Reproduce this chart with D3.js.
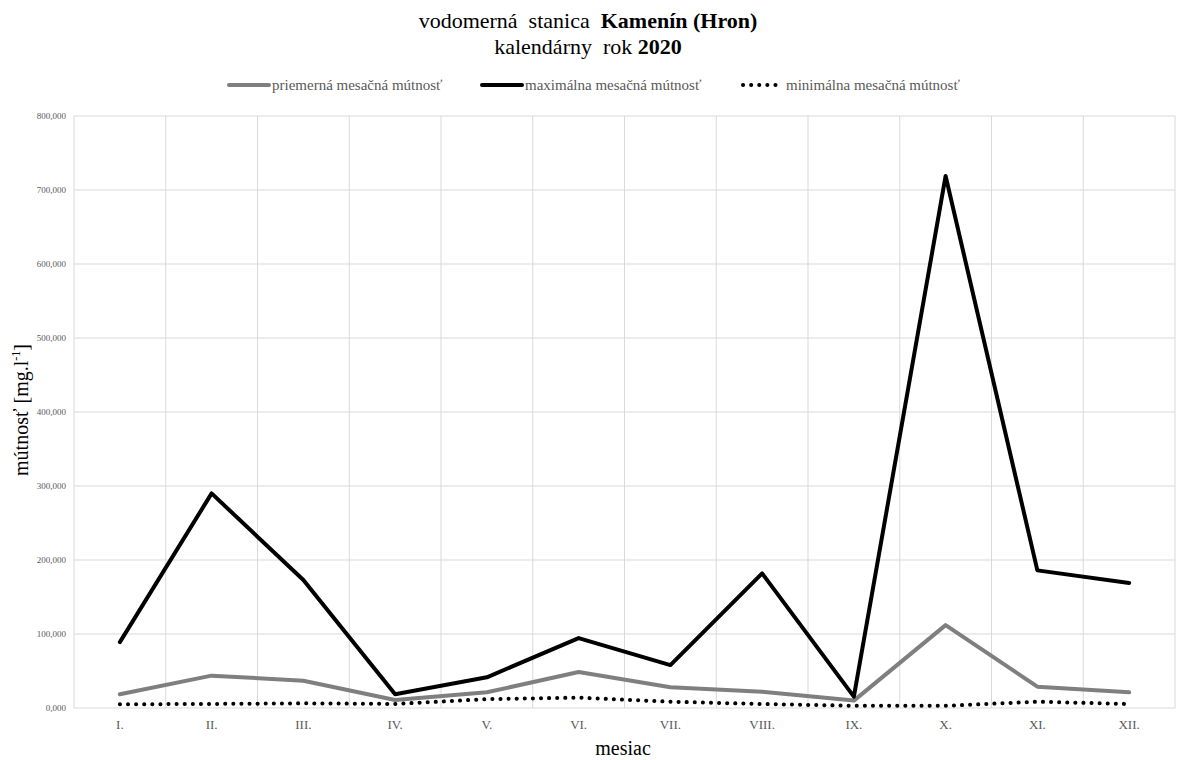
<!DOCTYPE html>
<html>
<head>
<meta charset="utf-8">
<script src="https://cdn.jsdelivr.net/npm/d3@7/dist/d3.min.js"></script>
<style>
  body { margin: 0; background: #fff; }
  svg { display: block; }
  svg text { font-family: "Liberation Serif", "Times New Roman", serif; white-space: pre; }
</style>
</head>
<body>
<svg id="chart" width="1177" height="760"></svg>
<script>
// ---- data (mg/l) ----
const months = ["I.", "II.", "III.", "IV.", "V.", "VI.", "VII.", "VIII.", "IX.", "X.", "XI.", "XII."];
const meanValues = [18.5, 43.7, 36.9, 10.8, 21.2, 48.6, 28.0, 22.0, 10.0, 112.0, 28.8, 21.2];
const maxValues  = [89.0, 290.0, 173.0, 18.5, 41.5, 94.5, 58.0, 182.0, 15.3, 719.0, 186.0, 169.0];
const minValues  = [5.0, 5.5, 6.3, 5.5, 12.0, 14.0, 8.5, 5.4, 3.0, 3.0, 8.5, 5.4];
const yTicks = [0, 100, 200, 300, 400, 500, 600, 700, 800];

const seriesDefs = [
  { name: "priemerná mesačná mútnosť", values: meanValues, color: "#7f7f7f", width: 4, dash: null },
  { name: "maximálna mesačná mútnosť", values: maxValues, color: "#000000", width: 4, dash: null },
  { name: "minimálna mesačná mútnosť", values: minValues, color: "#000000", width: 4, dash: "0.1 8" }
];

const svg = d3.select("#chart");
const plotLeft = 74, plotRight = 1175, plotTop = 116, plotBottom = 708;

const x = d3.scaleBand().domain(months).range([plotLeft, plotRight]).padding(0);
const y = d3.scaleLinear().domain([0, 800]).range([plotBottom, plotTop]);

const locale = d3.formatLocale({ decimal: ",", thousands: " ", grouping: [3], currency: ["", " €"] });
const fmt = locale.format(".3f");

// gridlines
const grid = svg.append("g");
grid.selectAll("line.h").data(yTicks).join("line")
  .attr("x1", plotLeft).attr("x2", plotRight)
  .attr("y1", d => y(d)).attr("y2", d => y(d))
  .attr("stroke", "#d9d9d9").attr("stroke-width", 1);
const vEdges = months.map(m => x(m)).concat([plotRight]);
grid.selectAll("line.v").data(vEdges).join("line")
  .attr("x1", d => d).attr("x2", d => d)
  .attr("y1", plotTop).attr("y2", plotBottom)
  .attr("stroke", "#d9d9d9").attr("stroke-width", 1);

// y axis
const yAxis = svg.append("g").attr("transform", `translate(${plotLeft},0)`)
  .call(d3.axisLeft(y).tickValues(yTicks).tickFormat(fmt).tickSize(0).tickPadding(8));
yAxis.select(".domain").remove();
yAxis.selectAll("text").style("fill", "#595959").style("font-size", "9px")
  .style("font-family", "'Liberation Serif', serif");

// x axis
const xAxis = svg.append("g").attr("transform", `translate(0,${plotBottom})`)
  .call(d3.axisBottom(x).tickSize(0).tickPadding(12));
xAxis.select(".domain").remove();
xAxis.selectAll("text").style("fill", "#595959").style("font-size", "13px")
  .style("font-family", "'Liberation Serif', serif");

// lines
const line = d3.line().x((d, i) => x(months[i]) + x.bandwidth() / 2).y(d => y(d));
svg.append("g").selectAll("path").data(seriesDefs).join("path")
  .attr("d", d => line(d.values))
  .attr("fill", "none")
  .attr("stroke", d => d.color)
  .attr("stroke-width", d => d.width)
  .attr("stroke-linecap", "round")
  .attr("stroke-linejoin", "round")
  .attr("stroke-dasharray", d => d.dash);

// title
const title = svg.append("text").attr("text-anchor", "middle").attr("x", 588).attr("y", 28)
  .style("font-size", "22px").attr("fill", "#000");
title.append("tspan").text("vodomerná  stanica  ");
title.append("tspan").attr("font-weight", "bold").text("Kamenín (Hron)");
const title2 = svg.append("text").attr("text-anchor", "middle").attr("x", 588).attr("y", 54)
  .style("font-size", "22px").attr("fill", "#000");
title2.append("tspan").text("kalendárny  rok ");
title2.append("tspan").attr("font-weight", "bold").text("2020");

// legend
const legendPos = [227, 480, 741];
const lg = svg.append("g").selectAll("g").data(seriesDefs).join("g")
  .attr("transform", (d, i) => `translate(${legendPos[i]},85)`);
lg.append("line").attr("x1", 2).attr("x2", 42).attr("y1", 0).attr("y2", 0)
  .attr("stroke", d => d.color).attr("stroke-width", d => d.width)
  .attr("stroke-linecap", "round")
  .attr("stroke-dasharray", d => d.dash);
lg.append("text").attr("x", 45).attr("y", 5).text(d => d.name)
  .style("fill", "#595959").style("font-size", "15px");

// axis titles
const yt = svg.append("text").attr("transform", "translate(28,410) rotate(-90)")
  .attr("text-anchor", "middle").style("font-size", "20px").attr("fill", "#000");
yt.append("tspan").text("mútnosť [mg.l");
yt.append("tspan").attr("dy", -8).style("font-size", "12px").text("-1");
yt.append("tspan").attr("dy", 8).text("]");

svg.append("text").attr("x", 623).attr("y", 755).attr("text-anchor", "middle")
  .style("font-size", "20px").attr("fill", "#000").text("mesiac");
</script>
</body>
</html>
